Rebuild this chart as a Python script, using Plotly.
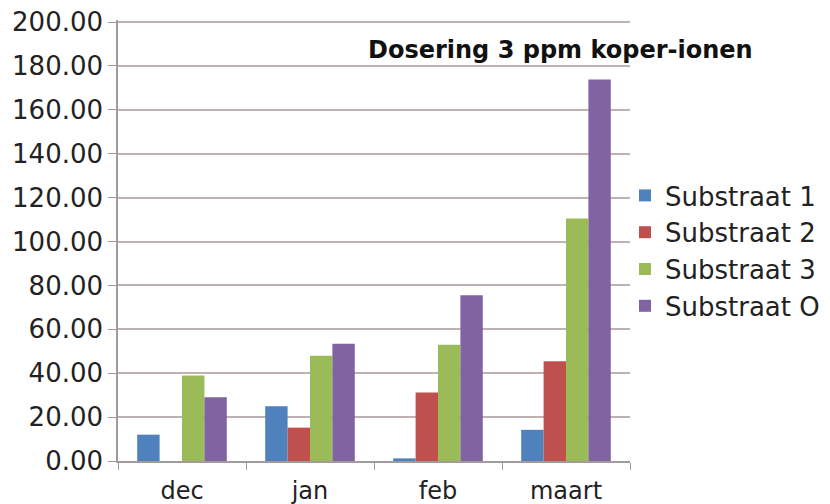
import plotly.graph_objects as go

categories = ["dec", "jan", "feb", "maart"]
series_names = ["Substraat 1", "Substraat 2", "Substraat 3", "Substraat O"]
substraat_1 = [12.0, 25.0, 1.2, 14.2]
substraat_2 = [0.0, 15.2, 31.2, 45.4]
substraat_3 = [39.0, 48.0, 53.0, 110.5]
substraat_o = [29.0, 53.4, 75.5, 173.8]
colors = ["#4F81BD", "#C0504D", "#9BBB59", "#8064A2"]
y_ticks = [0, 20, 40, 60, 80, 100, 120, 140, 160, 180, 200]

values = [substraat_1, substraat_2, substraat_3, substraat_o]

fig = go.Figure()
for name, vals, col in zip(series_names, values, colors):
    fig.add_trace(go.Bar(x=categories, y=vals, name=name, marker_color=col,
                         marker_line_width=0))

font_family = "DejaVu Sans"
# page body has an 8px margin: figure coordinates = page coordinates - 8
W, H = 822, 496
L, R, T, B = 110, 200, 12, 43
plot_w = W - L - R
plot_h = H - T - B
plot_bottom = H - B
# small headroom above 200 so the top gridline is drawn (plotly clips edge gridlines)
y_top = 200 + 2 / (439 / 200)


def px_x(page_x):
    return (page_x - 8 - L) / plot_w


def px_y(page_y):
    return (plot_bottom - (page_y - 8)) / plot_h


fig.update_layout(
    width=W, height=H,
    margin=dict(l=L, r=R, t=T, b=B, autoexpand=False),
    paper_bgcolor="white", plot_bgcolor="white",
    barmode="group", bargap=0.30, bargroupgap=0,
    font=dict(family=font_family, size=24, color="#222222"),
    showlegend=True,
    legend=dict(x=px_x(625), xanchor="left",
                y=px_y(251), yanchor="middle",
                font=dict(size=26, color="#222222"), tracegroupgap=0,
                itemwidth=30, bgcolor="rgba(0,0,0,0)"),
    annotations=[dict(text="<b>Dosering 3 ppm koper-ionen</b>",
                      x=px_x(560), xref="paper",
                      y=px_y(50), yref="paper", showarrow=False,
                      font=dict(size=24, family=font_family, color="#111111"),
                      xanchor="center", yanchor="middle")],
)

fig.update_xaxes(showline=True, linecolor="#a09a9a", linewidth=1.5,
                 ticks="outside", tickson="boundaries", ticklen=7, tickcolor="#a09a9a",
                 tickfont=dict(size=24, color="#222222"), showgrid=False,
                 ticklabelstandoff=7, automargin=False)
fig.update_yaxes(range=[0, y_top], tickvals=y_ticks, tickformat=".2f",
                 showline=True, linecolor="#a09a9a", linewidth=1.5,
                 ticks="outside", ticklen=8, tickcolor="#a09a9a",
                 showgrid=True, gridcolor="#bdb3b3", gridwidth=2,
                 tickfont=dict(size=26, color="#222222"), zeroline=False,
                 ticklabeloverflow="allow", automargin=False)

fig.write_html("out.html")
